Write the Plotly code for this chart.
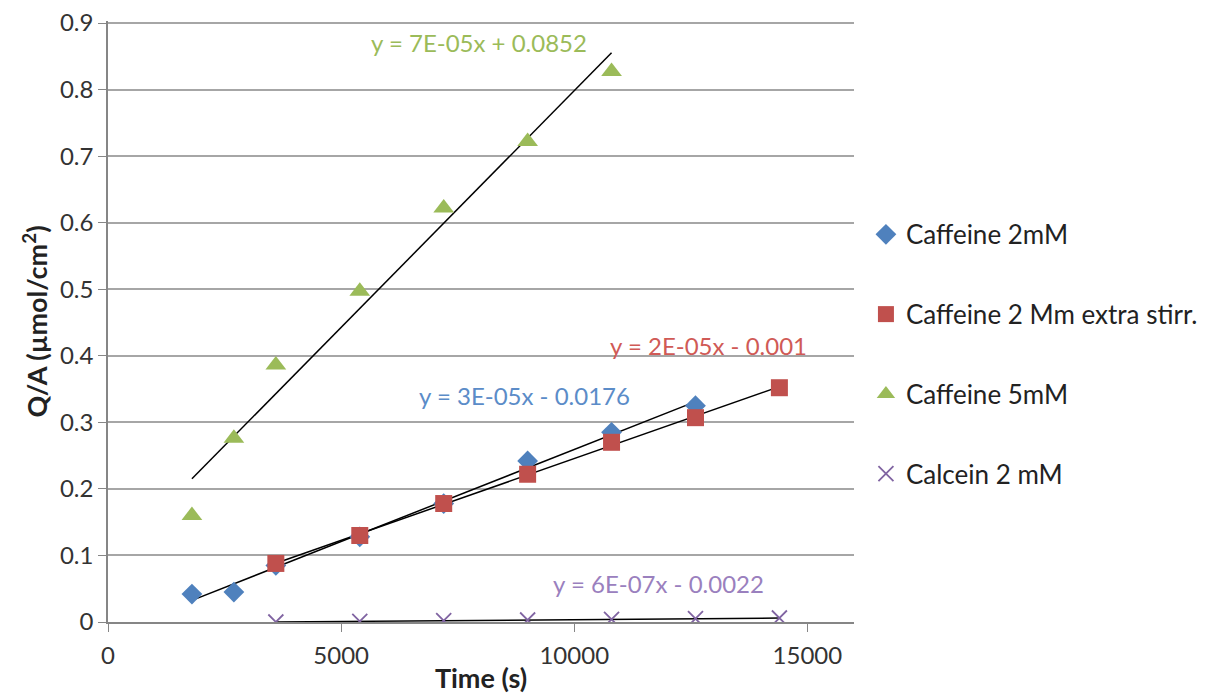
import numpy as np
import plotly.graph_objects as go

# ---- data ----
time_2mm = [1800, 2700, 3600, 5400, 7200, 9000, 10800, 12600]
caff_2mm = [0.042, 0.045, 0.085, 0.128, 0.178, 0.242, 0.285, 0.325]

time_stirr = [3600, 5400, 7200, 9000, 10800, 12600, 14400]
caff_stirr = [0.088, 0.130, 0.178, 0.222, 0.270, 0.307, 0.352]

time_5mm = [1800, 2700, 3600, 5400, 7200, 9000, 10800]
caff_5mm = [0.160, 0.276, 0.386, 0.497, 0.622, 0.722, 0.827]

time_calc = [3600, 5400, 7200, 9000, 10800, 12600, 14400]
calc_2mm = [0.000, 0.001, 0.002, 0.003, 0.004, 0.005, 0.006]

names = ["Caffeine 2mM", "Caffeine 2 Mm extra stirr.", "Caffeine 5mM", "Calcein 2 mM"]
equations = ["y = 3E-05x - 0.0176", "y = 2E-05x - 0.001", "y = 7E-05x + 0.0852", "y = 6E-07x - 0.0022"]
eq_pos_x = [8940, 12880, 7960, 11810]
eq_pos_y = [0.341, 0.416, 0.871, 0.0586]

x_tickvals = [0, 5000, 10000, 15000]
x_ticktext = ["0", "5000", "10000", "15000"]
y_tickvals = [0, 0.1, 0.2, 0.3, 0.4, 0.5, 0.6, 0.7, 0.8, 0.9]

colors = ["#4F81BD", "#C0504D", "#9BBB59", "#8064A2"]
text_colors = ["#5B8CC8", "#D05A56", "#9BBB59", "#9A80BE"]
symbols = ["diamond", "square", "triangle-up", "x-thin"]
sizes = [16, 17, 18, 15]

series = [(time_2mm, caff_2mm), (time_stirr, caff_stirr), (time_5mm, caff_5mm), (time_calc, calc_2mm)]

FONT = "Lato, 'Open Sans', sans-serif"

fig = go.Figure()

# trendlines (black)
for (xs, ys) in series:
    m, b = np.polyfit(xs, ys, 1)
    xl = [min(xs), max(xs)]
    fig.add_trace(go.Scatter(x=xl, y=[m * v + b for v in xl], mode="lines",
                             line=dict(color="black", width=1.5),
                             showlegend=False, hoverinfo="skip"))

for i, (xs, ys) in enumerate(series):
    if symbols[i] == "x-thin":
        marker = dict(symbol="x-thin", size=sizes[i], line=dict(color=colors[i], width=1.8), color=colors[i])
    else:
        marker = dict(symbol=symbols[i], size=sizes[i], color=colors[i], line=dict(width=0))
    fig.add_trace(go.Scatter(x=xs, y=ys, mode="markers", name=names[i], marker=marker,
                             legendgroup=f"g{i}"))

for i in range(4):
    fig.add_annotation(x=eq_pos_x[i], y=eq_pos_y[i], text=equations[i], showarrow=False,
                       font=dict(color=text_colors[i], size=24, family=FONT))

# margins compensate for the page's default 8px body margin
fig.update_layout(
    width=1207, height=693,
    margin=dict(l=100, r=359, t=13, b=79),
    plot_bgcolor="white", paper_bgcolor="white",
    font=dict(family=FONT, size=24, color="#333333"),
    legend=dict(x=1.016, y=0.684, xanchor="left", yanchor="top", tracegroupgap=43,
                font=dict(size=26, color="#222222"), itemsizing="trace"),
    xaxis=dict(range=[0, 16000], tickvals=x_tickvals, ticktext=x_ticktext, showgrid=False,
               showline=True, linecolor="#868686", linewidth=1.5, ticks="outside",
               tickcolor="#868686", ticklen=8, zeroline=False, automargin=False,
               ticklabelstandoff=3, ticklabeloverflow="allow",
               tickfont=dict(size=24, color="#333333"),
               title=dict(text="<b>Time (s)</b>", font=dict(size=27, color="#222222"), standoff=2)),
    yaxis=dict(range=[0, 0.903], tickvals=y_tickvals, tickformat=".1~f", ticksuffix="\u00a0\u00a0",
               showgrid=True, gridcolor="#A6A6A6", ticklabeloverflow="allow",
               gridwidth=1.5, showline=True, linecolor="#868686", linewidth=1.5, ticks="outside",
               tickcolor="#868686", ticklen=8, zeroline=False, automargin=False,
               tickfont=dict(size=24, color="#333333"),
               title=dict(text="<b>Q/A (µmol/cm<sup>2</sup>)</b>", font=dict(size=27, color="#222222"), standoff=4)),
)

fig.write_html("out.html", config={"displayModeBar": False})
